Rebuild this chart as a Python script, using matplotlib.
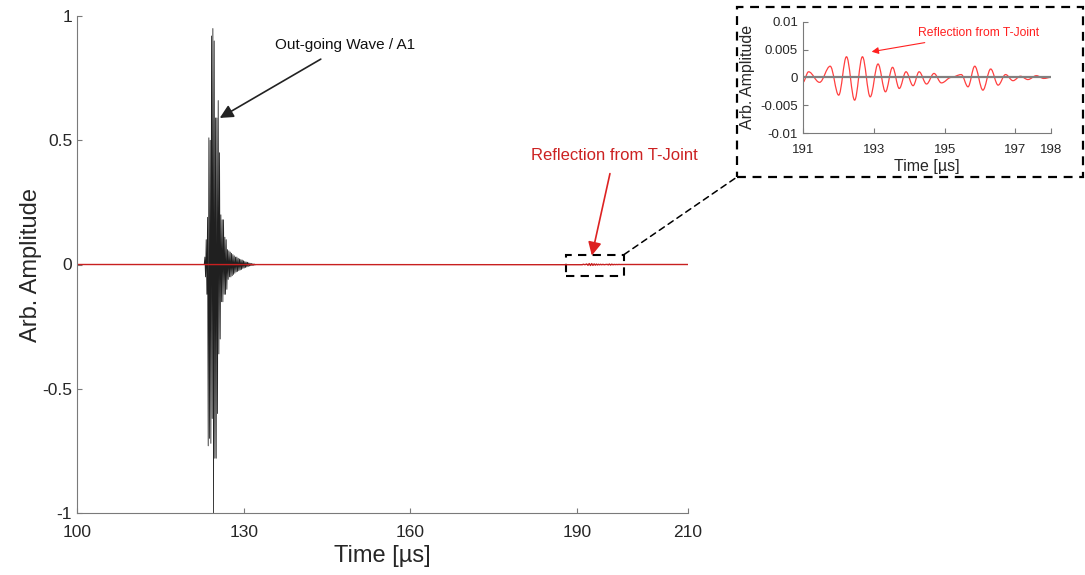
import numpy as np
import matplotlib.pyplot as plt
from matplotlib.path import Path
from matplotlib.patches import PathPatch, Rectangle, ConnectionPatch

plt.rcParams['font.family'] = ['Liberation Sans', 'DejaVu Sans']

# out-going wave (black trace), alternating extrema
t_main = [100.0, 122.90, 123.02, 123.14, 123.26, 123.38, 123.50, 123.62, 123.74, 123.86,
          123.98, 124.10, 124.22, 124.34, 124.46, 124.58, 124.70, 124.82, 124.94, 125.06,
          125.18, 125.30, 125.42, 125.54, 125.66, 125.78, 125.90, 126.02, 126.14, 126.26,
          126.38, 126.50, 126.62, 126.74, 126.86, 126.98, 127.10, 127.22, 127.34, 127.46,
          127.58, 127.70, 127.82, 127.94, 128.06, 128.18, 128.30, 128.42, 128.54, 128.66,
          128.78, 128.90, 129.02, 129.14, 129.26, 129.38, 129.50, 129.62, 129.74, 129.86,
          129.98, 130.10, 130.22, 130.34, 130.46, 130.58, 130.70, 130.82, 130.94, 131.06,
          131.18, 131.30, 131.42, 131.54, 131.66, 131.78, 131.90, 132.02, 132.14, 210.0]
a_main = [0.0, 0.0, 0.03, -0.05, 0.10, -0.12, 0.19, -0.73, 0.51, -0.70,
          0.50, -0.72, 0.92, -0.62, 0.95, -1.00, 0.90, -0.78, 0.59, -0.78,
          0.59, -0.60, 0.66, -0.36, 0.45, -0.30, 0.20, -0.15, 0.18, -0.15,
          0.18, -0.12, 0.11, -0.12, 0.10, -0.10, 0.06, -0.06, 0.055, -0.05,
          0.05, -0.05, 0.045, -0.045, 0.04, -0.04, 0.035, -0.035, 0.03, -0.03,
          0.03, -0.028, 0.025, -0.025, 0.022, -0.022, 0.02, -0.02, 0.018, -0.016,
          0.015, -0.014, 0.012, -0.012, 0.01, -0.01, 0.009, -0.008, 0.007, -0.006,
          0.005, -0.005, 0.004, -0.004, 0.003, -0.003, 0.002, -0.002, 0.0, 0.0]

# reflection from T-joint (red trace), extrema
t_refl = [191.0, 191.16, 191.47, 191.77, 192.01, 192.23, 192.46, 192.68, 192.90,
          193.12, 193.33, 193.53, 193.72, 193.91, 194.11, 194.28, 194.49, 194.70,
          194.91, 195.19, 195.47, 195.66, 195.85, 196.08, 196.30, 196.51, 196.72,
          196.93, 197.14, 197.35, 197.59, 197.80, 198.0]
a_refl = [-0.0009, 0.0010, -0.0009, 0.0020, -0.0032, 0.0037, -0.0041, 0.0037, -0.0035,
          0.0024, -0.0026, 0.0018, -0.0020, 0.0010, -0.0015, 0.0010, -0.0012, 0.0007,
          -0.0010, 0.0, 0.0005, -0.0017, 0.0020, -0.0023, 0.0015, -0.0014, 0.0005,
          -0.0006, 0.0002, -0.0004, 0.0003, -0.0002, 0.0]

main_xticks = [100, 130, 160, 190, 210]
main_yticks = [-1, -0.5, 0, 0.5, 1]
main_ylabels = ['-1', '-0.5', '0', '0.5', '1']
inset_xticks = [191, 193, 195, 197, 198]
inset_yticks = [-0.01, -0.005, 0, 0.005, 0.01]
inset_ylabels = ['-0.01', '-0.005', '0', '0.005', '0.01']

spine_col = '#7a7a7a'
text_col = '#262626'


def smooth_path(t, a):
    # cubic segments with flat tangents at every extremum
    verts = [(t[0], a[0])]
    codes = [Path.MOVETO]
    for i in range(len(t) - 1):
        dt = t[i + 1] - t[i]
        verts += [(t[i] + 0.364 * dt, a[i]), (t[i + 1] - 0.364 * dt, a[i + 1]), (t[i + 1], a[i + 1])]
        codes += [Path.CURVE4] * 3
    return Path(verts, codes)


def style_axes(ax, size, xpad):
    for s in ['top', 'right']:
        ax.spines[s].set_visible(False)
    for s in ['left', 'bottom']:
        ax.spines[s].set_color(spine_col)
    ax.tick_params(direction='in', colors=spine_col, labelcolor=text_col, labelsize=size)
    ax.tick_params(axis='x', pad=xpad)


fig = plt.figure(figsize=(10.85, 5.75), dpi=100)
ax = fig.add_axes([0.071, 0.108, 0.563, 0.864])

ax.plot(t_main, a_main, color='#202020', lw=0.6)
t_red = [100.0] + t_refl + [210.0]
a_red = [0.0] + a_refl + [0.0]
ax.plot(t_red, a_red, color='#c82020', lw=1.0)

ax.set_xlim(100, 210)
ax.set_ylim(-1, 1)
ax.set_xticks(main_xticks)
ax.set_yticks(main_yticks)
ax.set_yticklabels(main_ylabels)
style_axes(ax, 12.5, 9)
ax.set_xlabel('Time [µs]', fontsize=17, color=text_col, labelpad=3)
ax.set_ylabel('Arb. Amplitude', fontsize=17, color=text_col, labelpad=0)

ax.annotate('Out-going Wave / A1', xy=(125.7, 0.59), xytext=(135.6, 0.883),
            ha='left', va='center', fontsize=11, color='#111111',
            arrowprops=dict(arrowstyle='-|>', color='#222222', lw=1.2,
                            mutation_scale=20, shrinkA=6, shrinkB=0))
ax.annotate('Reflection from T-Joint', xy=(192.7, 0.036), xytext=(196.7, 0.44),
            ha='center', va='center', fontsize=12, color='#cc2222',
            arrowprops=dict(arrowstyle='-|>', color='#dd2222', lw=1.2,
                            mutation_scale=20, shrinkA=6, shrinkB=0))

ax.add_patch(Rectangle((188.0, -0.048), 10.5, 0.088, fill=False, ls=(0, (4, 3)),
                       lw=1.5, edgecolor='black', clip_on=False))

# dashed frame around the inset
fig.patches.append(Rectangle((737 / 1085, 1 - 177 / 575), 346 / 1085, 170 / 575,
                             transform=fig.transFigure, fill=False, ls=(0, (4, 3)),
                             lw=1.6, edgecolor='black'))
con = ConnectionPatch(xyA=(198.5, 0.04), coordsA=ax.transData,
                      xyB=(737 / 1085, 1 - 177 / 575), coordsB=fig.transFigure,
                      ls=(0, (4, 3)), lw=1.1, color='black')
fig.add_artist(con)

axi = fig.add_axes([0.740, 1 - 133 / 575, 0.2286, 0.1936])
axi.plot(t_main, a_main, color='#808080', lw=1.6)
axi.add_patch(PathPatch(smooth_path(t_refl, a_refl), fill=False, edgecolor='#ff4040', lw=0.9))
axi.set_xlim(191, 198)
axi.set_ylim(-0.01, 0.01)
axi.set_xticks(inset_xticks)
axi.set_yticks(inset_yticks)
axi.set_yticklabels(inset_ylabels)
style_axes(axi, 9.5, 8)
axi.set_xlabel('Time [µs]', fontsize=11.5, color=text_col, labelpad=2)
axi.set_ylabel('Arb. Amplitude', fontsize=11.5, color=text_col, labelpad=4)
axi.annotate('Reflection from T-Joint', xy=(192.94, 0.0046), xytext=(194.25, 0.0079),
             ha='left', va='center', fontsize=8.7, color='#ff2020',
             arrowprops=dict(arrowstyle='-|>', color='#ff2020', lw=0.8,
                             mutation_scale=10, shrinkA=2, shrinkB=0))

fig.savefig('out.png', dpi=100)
